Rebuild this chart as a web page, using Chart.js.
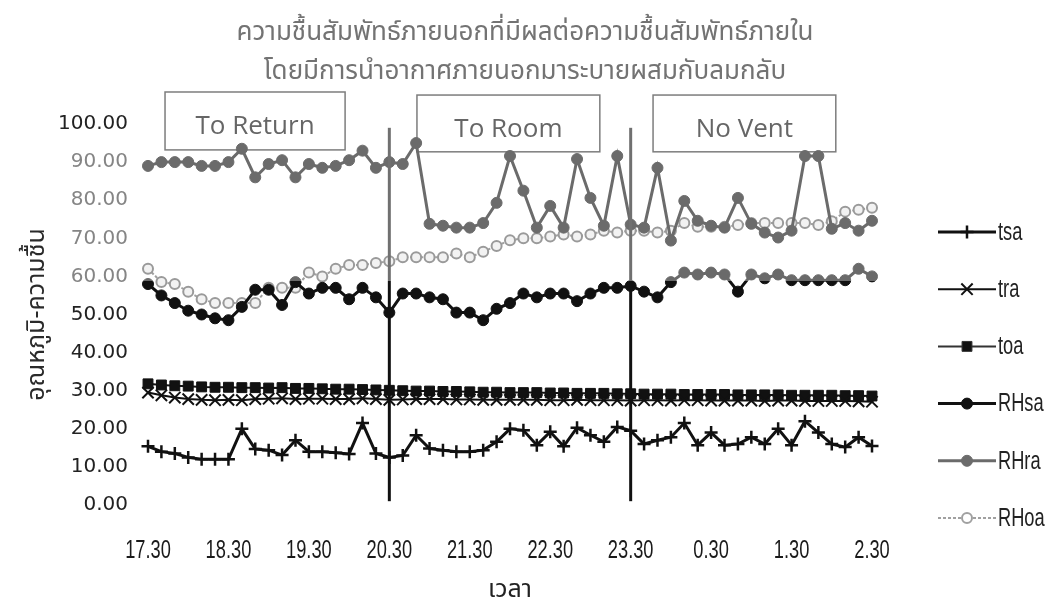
<!DOCTYPE html>
<html>
<head>
<meta charset="utf-8">
<script src="https://cdn.jsdelivr.net/npm/chart.js@4/dist/chart.umd.min.js"></script>
<style>
  html, body { margin: 0; padding: 0; background: #ffffff; }
  #wrap { width: 1064px; height: 611px; position: relative; }
</style>
</head>
<body>
<div id="wrap"><canvas id="chart" width="1064" height="611"></canvas></div>
<script>
// 10-minute readings, 17.30 to 2.30
const categories = [
  '17.30','17.40','17.50','18.00','18.10','18.20',
  '18.30','18.40','18.50','19.00','19.10','19.20',
  '19.30','19.40','19.50','20.00','20.10','20.20',
  '20.30','20.40','20.50','21.00','21.10','21.20',
  '21.30','21.40','21.50','22.00','22.10','22.20',
  '22.30','22.40','22.50','23.00','23.10','23.20',
  '23.30','23.40','23.50','0.00','0.10','0.20',
  '0.30','0.40','0.50','1.00','1.10','1.20',
  '1.30','1.40','1.50','2.00','2.10','2.20',
  '2.30'
];
const tickLabels = ['17.30','18.30','19.30','20.30','21.30','22.30','23.30','0.30','1.30','2.30'];

const tsa = [15.4, 14, 13.5, 12.5, 12, 12, 12, 20, 14.7, 14.4, 13.1, 17, 14, 14, 13.7, 13.4, 21.5, 13.5,
  12.5, 13, 18.3, 14.8, 14.4, 14, 14, 14.4, 16.6, 20, 19.6, 15.7, 19.2, 15.4, 20.3, 18.3, 16.6, 20.5,
  19.5, 16, 17, 17.8, 21.5, 15.7, 19, 15.7, 16, 17.8, 16, 20, 15.7, 22, 19, 16, 15.2, 17.8, 15.5];
const tra = [29.5, 28.8, 28.2, 27.8, 27.6, 27.5, 27.6, 27.5, 27.8, 27.9, 28, 27.8, 27.9, 27.9, 27.8, 27.8, 28, 27.8,
  27.6, 27.7, 27.8, 27.8, 27.8, 27.7, 27.7, 27.6, 27.6, 27.6, 27.6, 27.6, 27.5, 27.5, 27.6, 27.5, 27.5, 27.5,
  27.4, 27.5, 27.5, 27.4, 27.5, 27.5, 27.4, 27.4, 27.4, 27.4, 27.3, 27.4, 27.4, 27.3, 27.3, 27.3, 27.3, 27.2, 27.1];
const toa = [31.8, 31.5, 31.3, 31.2, 31, 30.9, 30.9, 30.8, 30.8, 30.7, 30.8, 30.6, 30.6, 30.5, 30.4, 30.4, 30.3, 30.2,
  30.1, 30, 29.9, 29.9, 29.8, 29.8, 29.7, 29.6, 29.6, 29.5, 29.5, 29.5, 29.4, 29.4, 29.3, 29.3, 29.3, 29.2,
  29.2, 29.1, 29.1, 29.1, 29, 29, 29, 29, 28.9, 28.9, 28.9, 28.9, 28.8, 28.8, 28.8, 28.8, 28.7, 28.7, 28.6];
const RHsa = [58, 55, 53, 51, 50, 49, 48.5, 52, 56.5, 56.5, 52.5, 58.5, 55.5, 57, 57, 54, 57, 54.5,
  50.5, 55.5, 55.5, 54.5, 54, 50.5, 50.5, 48.5, 51.5, 53, 55.5, 54.5, 55.5, 55.5, 53.5, 55.5, 57, 57,
  57.5, 56, 54.5, 58.5, 61, 60.5, 61, 60.5, 56, 60.5, 59.5, 60.5, 59, 59, 59, 59, 59, 62, 60];
const RHra = [89, 90, 90, 90, 89, 89, 90, 93.5, 86, 89.5, 90.5, 86, 89.5, 88.5, 89, 90.5, 93, 88.5,
  90, 89.5, 95, 73.8, 73.3, 72.8, 72.8, 74, 79.3, 91.6, 82.5, 72.8, 78.5, 72.8, 90.8, 80.6, 73.3, 91.6,
  73.6, 72.8, 88.5, 69.4, 79.8, 74.6, 73.3, 72.8, 80.6, 73.8, 71.5, 70.2, 72, 91.6, 91.6, 72.5, 74, 72, 74.6];
const RHoa = [62, 58.5, 58, 56, 54, 53, 53, 53, 53, 57, 57, 57, 61, 60, 62, 63, 63, 63.5,
  64, 65, 65, 65, 65, 66, 65, 66.5, 68, 69.5, 70, 70, 70.5, 71, 70.5, 71, 72, 71.5,
  72, 72, 71.5, 72, 74, 73, 73, 73, 73.5, 74, 74, 74, 74, 74, 73.5, 74.5, 77, 77.5, 78];

// operating phases: label and extent in category index / axis units
const phases = [
  { text: 'To Return', from: 1.27, to: 14.7, top: 108.4, bottom: 93.2 },
  { text: 'To Room',   from: 20.06, to: 33.7, top: 107.6, bottom: 92.7 },
  { text: 'No Vent',   from: 37.67, to: 51.3, top: 107.6, bottom: 92.7 }
];
// phase changes at 20.30 and 23.30
const phaseChanges = ['20.30', '23.30'];

const titleLines = ['ความชื้นสัมพัทธ์ภายนอกที่มีผลต่อความชื้นสัมพัทธ์ภายใน', 'โดยมีการนำอากาศภายนอกมาระบายผสมกับลมกลับ'];
const THAI = '"Noto Sans Thai", "Noto Sans Thai Looped", "Garuda", "Loma", "Norasi", "Noto Sans", sans-serif';
const NARROW_FONT = '25px "Liberation Sans", Arial, sans-serif';
const NARROW_SCALE = 0.73;

// narrow text: regular face squeezed horizontally
function narrowText(ctx, text, x, y, align) {
  ctx.save();
  ctx.font = NARROW_FONT;
  ctx.textBaseline = 'middle';
  ctx.textAlign = 'left';
  const w = ctx.measureText(text).width * NARROW_SCALE;
  let left = x;
  if (align === 'center') left = x - w / 2;
  else if (align === 'right') left = x - w;
  ctx.translate(left, y);
  ctx.scale(NARROW_SCALE, 1);
  ctx.fillText(text, 0, 0);
  ctx.restore();
}

// upper band of the plot prints lighter
const BAND_VALUE = 58.8;
function banded(dark, light) {
  return (context) => {
    const chart = context.chart;
    const area = chart.chartArea;
    if (!area || !chart.scales.y) return dark;
    const cut = chart.scales.y.getPixelForValue(BAND_VALUE);
    const t = Math.min(1, Math.max(0, (cut - area.top) / (area.bottom - area.top)));
    const g = chart.ctx.createLinearGradient(0, area.top, 0, area.bottom);
    g.addColorStop(0, light); g.addColorStop(t, light);
    g.addColorStop(t, dark); g.addColorStop(1, dark);
    return g;
  };
}

const backdrop = {
  id: 'backdrop',
  beforeDatasetsDraw(chart) {
    const { ctx, scales: { x, y } } = chart;
    ctx.save();
    // title
    ctx.fillStyle = '#737373';
    ctx.font = '26px ' + THAI;
    ctx.textAlign = 'center';
    ctx.textBaseline = 'middle';
    ctx.fillText(titleLines[0], 525, 35);
    ctx.fillText(titleLines[1], 525, 74);
    // phase boxes
    phases.forEach(p => {
      const l = x.getPixelForValue(p.from), r = x.getPixelForValue(p.to);
      const t = y.getPixelForValue(p.top), b = y.getPixelForValue(p.bottom);
      ctx.fillStyle = '#ffffff';
      ctx.fillRect(l, t, r - l, b - t);
      ctx.strokeStyle = '#7d7d7d';
      ctx.lineWidth = 1.5;
      ctx.strokeRect(l, t, r - l, b - t);
      ctx.fillStyle = '#666666';
      ctx.font = '26px "Open Sans", "Noto Sans", sans-serif';
      ctx.fillText(p.text, (l + r) / 2, (t + b) / 2 + 6);
    });
    // time labels under the axis
    ctx.fillStyle = '#1a1a1a';
    categories.forEach((c, i) => {
      if (tickLabels.includes(c)) narrowText(ctx, c, x.getPixelForValue(i), 551, 'center');
    });
    ctx.restore();
  },
  afterDatasetsDraw(chart) {
    const { ctx, scales: { x, y } } = chart;
    ctx.save();
    const top = y.getPixelForValue(99), bottom = y.getPixelForValue(1);
    const cut = y.getPixelForValue(BAND_VALUE);
    phaseChanges.forEach(label => {
      const px = x.getPixelForValue(categories.indexOf(label));
      ctx.lineWidth = 3;
      ctx.strokeStyle = '#707070';
      ctx.beginPath(); ctx.moveTo(px, top); ctx.lineTo(px, cut); ctx.stroke();
      ctx.strokeStyle = '#111111';
      ctx.beginPath(); ctx.moveTo(px, cut); ctx.lineTo(px, bottom); ctx.stroke();
    });
    ctx.restore();
  },
  afterDraw(chart) {
    // series key on the right
    const ctx = chart.ctx;
    ctx.save();
    chart.data.datasets.forEach((ds, i) => {
      const yy = 232 + i * 57.2;
      ctx.strokeStyle = ds.swatch;
      ctx.lineWidth = ds.borderWidth;
      ctx.setLineDash(ds.borderDash || []);
      ctx.beginPath(); ctx.moveTo(938, yy); ctx.lineTo(996, yy); ctx.stroke();
      ctx.setLineDash([]);
      ctx.fillStyle = ds.swatchFill;
      ctx.strokeStyle = ds.swatch;
      ctx.lineWidth = ds.pointBorderWidth;
      Chart.helpers.drawPoint(ctx, { pointStyle: ds.pointStyle, radius: ds.pointRadius, rotation: 0, borderWidth: ds.pointBorderWidth }, 967, yy);
      ctx.fillStyle = '#222222';
      narrowText(ctx, ds.label, 998, yy + 1, 'left');
    });
    ctx.restore();
  }
};

const common = { clip: false, tension: 0, pointHoverRadius: 6 };

new Chart(document.getElementById('chart'), {
  type: 'line',
  data: {
    labels: categories,
    datasets: [
      { ...common, label: 'tsa', data: tsa, borderColor: '#111', swatch: '#111', swatchFill: '#111',
        borderWidth: 3, pointStyle: 'cross', pointRadius: 6.5, pointBorderWidth: 2.5,
        pointBorderColor: '#111', pointBackgroundColor: '#111' },
      { ...common, label: 'tra', data: tra, borderColor: '#111', swatch: '#111', swatchFill: '#111',
        borderWidth: 2, pointStyle: 'crossRot', pointRadius: 8, pointBorderWidth: 2,
        pointBorderColor: '#111', pointBackgroundColor: '#111' },
      { ...common, label: 'toa', data: toa, borderColor: '#111', swatch: '#333', swatchFill: '#111',
        borderWidth: 2, pointStyle: 'rect', pointRadius: 7, pointBorderWidth: 1,
        pointBorderColor: '#111', pointBackgroundColor: '#111' },
      { ...common, label: 'RHsa', data: RHsa, borderColor: banded('#111111', '#6a6a6a'), swatch: '#111', swatchFill: '#111',
        borderWidth: 3, pointStyle: 'circle', pointRadius: 5.5, pointBorderWidth: 1,
        pointBorderColor: banded('#111111', '#6a6a6a'), pointBackgroundColor: banded('#111111', '#6a6a6a') },
      { ...common, label: 'RHra', data: RHra, borderColor: '#6b6b6b', swatch: '#6b6b6b', swatchFill: '#6b6b6b',
        borderWidth: 3, pointStyle: 'circle', pointRadius: 5.5, pointBorderWidth: 1,
        pointBorderColor: '#6b6b6b', pointBackgroundColor: '#6b6b6b' },
      { ...common, label: 'RHoa', data: RHoa, borderColor: '#a0a0a0', swatch: '#a0a0a0', swatchFill: '#ffffff',
        borderWidth: 2, borderDash: [3, 2], pointStyle: 'circle', pointRadius: 5, pointBorderWidth: 2,
        pointBorderColor: '#9a9a9a', pointBackgroundColor: '#f2f2f2' }
    ]
  },
  options: {
    responsive: false,
    animation: false,
    layout: { padding: { top: 124, right: 192, left: 0, bottom: 0 } },
    plugins: {
      legend: { display: false },
      title: { display: false },
      tooltip: { enabled: false }
    },
    scales: {
      x: {
        type: 'category',
        offset: false,
        grid: { display: false, drawTicks: false },
        border: { display: false },
        ticks: { display: false, autoSkip: false },
        title: {
          display: true, text: 'เวลา', color: '#222',
          font: { family: THAI, size: 25 }, padding: { top: 0, bottom: 4 }
        },
        afterFit: (s) => { s.height = 106; }
      },
      y: {
        min: 0, max: 100,
        grid: { display: false, drawTicks: false },
        border: { display: false },
        ticks: {
          stepSize: 10, padding: 20,
          font: { family: '"DejaVu Sans", Verdana, sans-serif', size: 20 },
          color: (c) => (c.tick.value >= 60 && c.tick.value <= 90) ? '#858585' : '#222222',
          callback: (v) => Number(v).toFixed(2)
        },
        title: {
          display: true, text: 'อุณหภูมิ-ความชื้น', color: '#2a2a2a',
          font: { family: THAI, size: 25 }, padding: { top: 24, bottom: 0 }
        },
        afterFit: (s) => { s.width = 148; }
      }
    }
  },
  plugins: [backdrop]
});
</script>
</body>
</html>
